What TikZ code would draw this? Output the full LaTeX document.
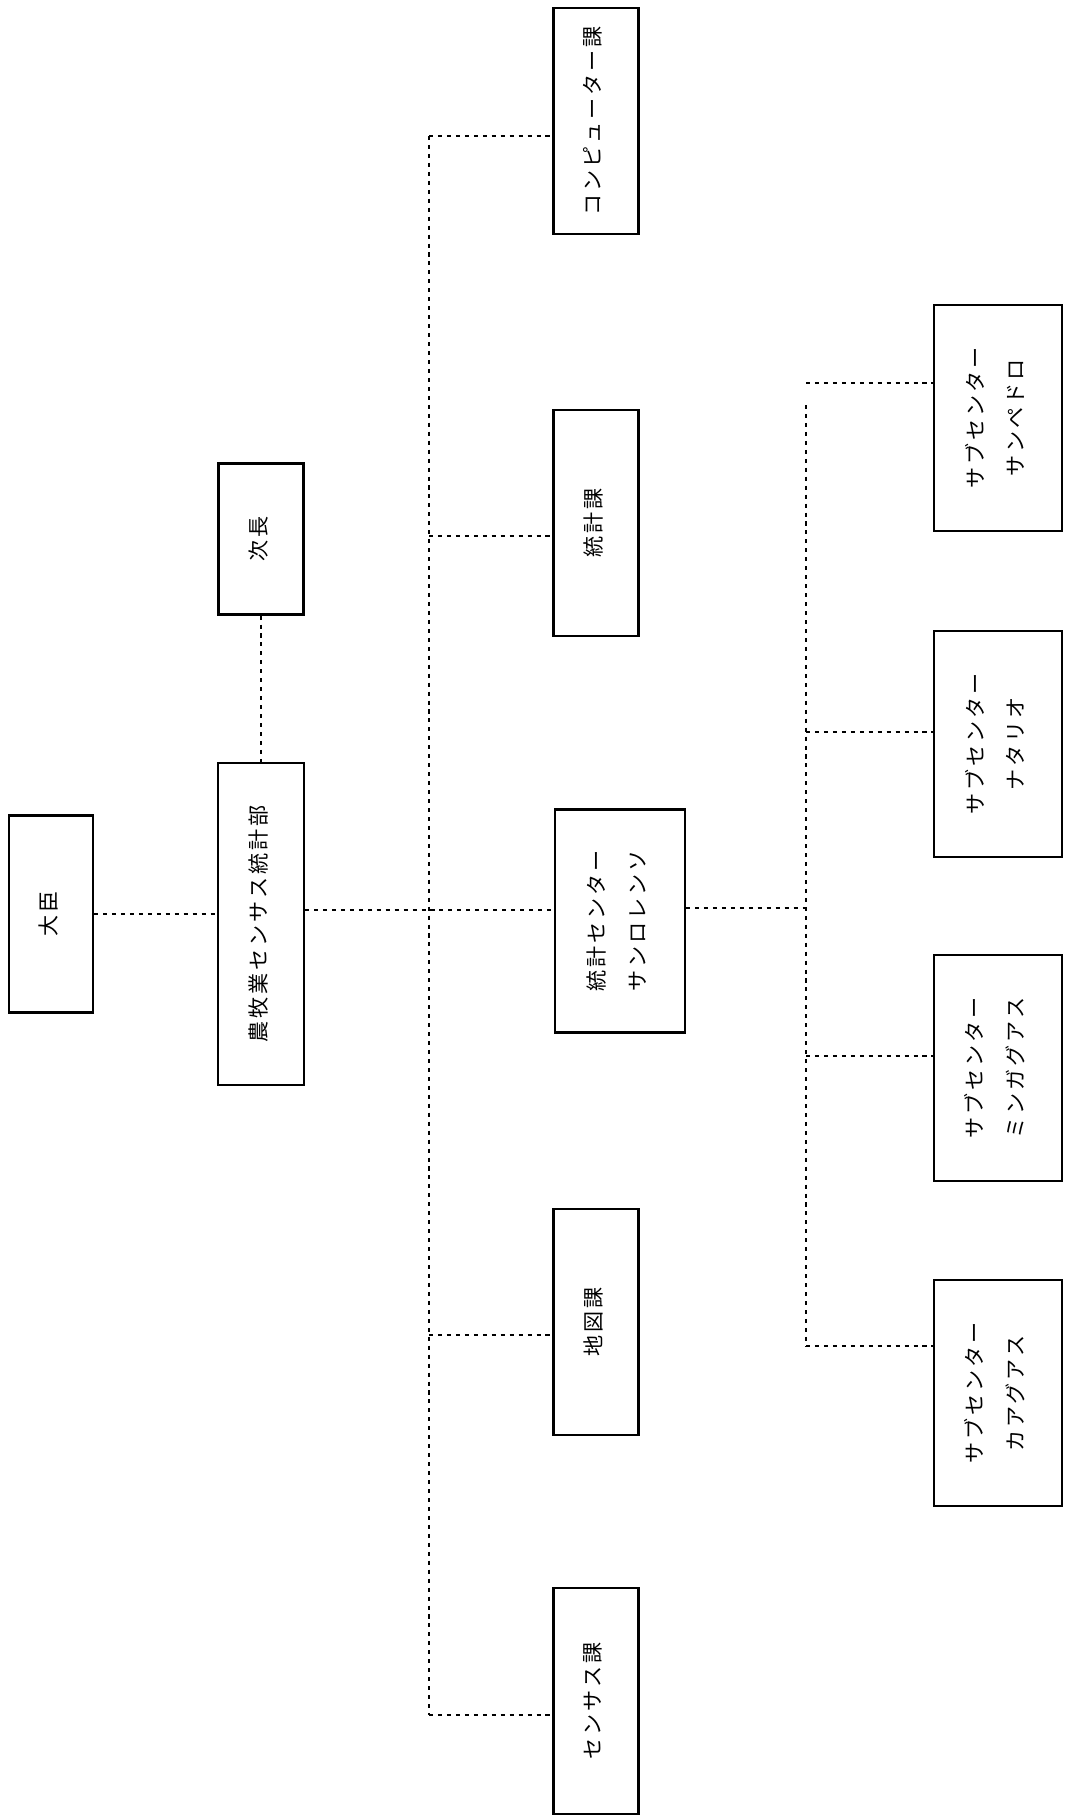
\documentclass[tikz,border=0pt]{standalone}
\usepackage{fontspec}
\newfontfamily\jpfont{Noto Sans CJK JP}[LetterSpace=14]
\usepackage{tikz}
\usetikzlibrary{positioning, calc}
\newcommand{\vlabel}[1]{\rotatebox{90}{\begin{tabular}{@{}c@{}}#1\end{tabular}}}

\begin{document}
\begin{tikzpicture}[
    x=0.02cm, y=-0.02cm,
    box/.style={
        rectangle, draw=black, line width=1.2pt, inner sep=0pt,
        font=\jpfont\fontsize{12pt}{14pt}\selectfont
    },
    sect/.style={box, minimum width=1.7cm, minimum height=4.52cm},
    subc/.style={box, minimum width=2.56cm, minimum height=4.52cm},
    link/.style={line width=1pt, dash pattern=on 2.3pt off 2.8pt}
]
\useasboundingbox (0,0) rectangle (1065,1819);

% === Top of the hierarchy ===
\node[box, minimum width=1.68cm, minimum height=3.94cm] (minister) at (51,914)
    {\vlabel{大臣}};
\node[box, minimum width=1.72cm, minimum height=6.44cm] (dept) at (261,924)
    {\vlabel{農牧業センサス統計部}};
\node[box, minimum width=1.7cm, minimum height=3.02cm] (deputy) at (261,539)
    {\vlabel{次長}};

\draw[link] (minister.east) -- (minister.east -| dept.west);
\draw[link] (deputy.south) -- (deputy.south |- dept.north);

% === Sections ===
\node[sect] (comp) at (596,121) {\vlabel{コンピューター課}};
\node[sect] (stat) at (596,523) {\vlabel{統計課}};
\node[box, minimum width=2.6cm, minimum height=4.46cm] (center) at (620,921)
    {\vlabel{統計センター\\[9pt]サンロレンソ}};
\node[sect] (map) at (596,1322) {\vlabel{地図課}};
\node[sect] (census) at (596,1701) {\vlabel{センサス課}};

% bus joints
\coordinate (jComp) at (429,136);
\coordinate (jStat) at (429,536);
\coordinate (jMain) at (429,910);
\coordinate (jMap) at (429,1335);
\coordinate (jCensus) at (429,1715);

\draw[link] (jComp) -- (jCensus);
\draw[link] (dept.east |- jMain) -- (center.west |- jMain);
\draw[link] (jComp) -- (comp.west |- jComp);
\draw[link] (jStat) -- (stat.west |- jStat);
\draw[link] (jMap) -- (map.west |- jMap);
\draw[link] (jCensus) -- (census.west |- jCensus);

% === Sub-centers ===
\node[subc] (pedro) at (998,418) {\vlabel{サブセンター\\[9pt]サンペドロ}};
\node[subc] (natalio) at (998,744) {\vlabel{サブセンター\\[9pt]ナタリオ}};
\node[subc] (minga) at (998,1068) {\vlabel{サブセンター\\[9pt]ミンガグアス}};
\node[subc] (caagua) at (998,1393) {\vlabel{サブセンター\\[9pt]カアグアス}};

\coordinate (sPedro) at (806,383);
\coordinate (sTop) at (806,405);
\coordinate (sNatalio) at (806,732);
\coordinate (sMain) at (806,908);
\coordinate (sMinga) at (806,1056);
\coordinate (sCaagua) at (806,1346);

\draw[link] (sTop) -- (sCaagua);
\draw[link] (center.east |- sMain) -- (sMain);
\draw[link] (sPedro) -- (pedro.west |- sPedro);
\draw[link] (sNatalio) -- (natalio.west |- sNatalio);
\draw[link] (sMinga) -- (minga.west |- sMinga);
\draw[link] (sCaagua) -- (caagua.west |- sCaagua);

\end{tikzpicture}
\end{document}
